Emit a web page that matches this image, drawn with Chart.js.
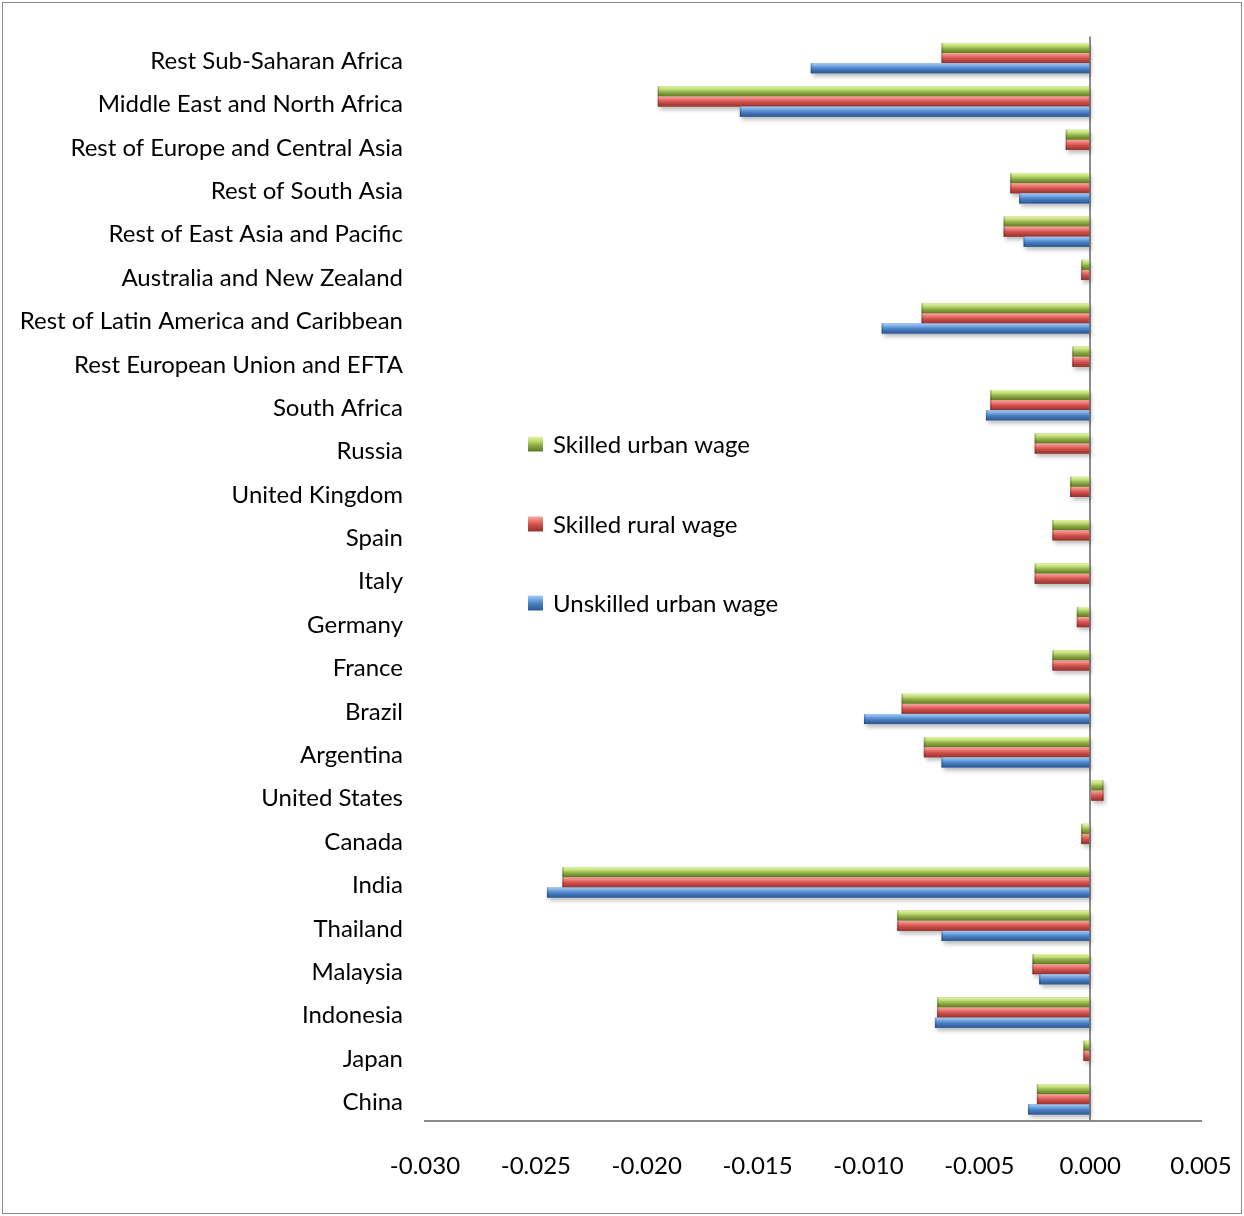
<!DOCTYPE html>
<html>
<head>
<meta charset="utf-8">
<script src="https://cdn.jsdelivr.net/npm/chart.js@4/dist/chart.umd.min.js"></script>
<style>
  html, body { margin: 0; padding: 0; background: #ffffff; }
  #wrap { width: 1244px; height: 1216px; position: relative; }
</style>
</head>
<body>
<div id="wrap"><canvas id="chart"></canvas></div>
<script>
// Regions, listed top to bottom
const categories = [
  'Rest Sub-Saharan Africa', 'Middle East and North Africa', 'Rest of Europe and Central Asia',
  'Rest of South Asia', 'Rest of East Asia and Pacific', 'Australia and New Zealand',
  'Rest of Latin America and Caribbean', 'Rest European Union and EFTA', 'South Africa',
  'Russia', 'United Kingdom', 'Spain', 'Italy', 'Germany', 'France', 'Brazil', 'Argentina',
  'United States', 'Canada', 'India', 'Thailand', 'Malaysia', 'Indonesia', 'Japan', 'China'
];

// Change in wages by region
const skilledUrbanWage = [
  -0.0067, -0.0195, -0.0011, -0.0036, -0.0039, -0.0004, -0.0076, -0.0008, -0.0045,
  -0.0025, -0.0009, -0.0017, -0.0025, -0.0006, -0.0017, -0.0085, -0.0075,
  0.0006, -0.0004, -0.0238, -0.0087, -0.0026, -0.0069, -0.0003, -0.0024
];
const skilledRuralWage = [
  -0.0067, -0.0195, -0.0011, -0.0036, -0.0039, -0.0004, -0.0076, -0.0008, -0.0045,
  -0.0025, -0.0009, -0.0017, -0.0025, -0.0006, -0.0017, -0.0085, -0.0075,
  0.0006, -0.0004, -0.0238, -0.0087, -0.0026, -0.0069, -0.0003, -0.0024
];
const unskilledUrbanWage = [
  -0.0126, -0.0158, 0, -0.0032, -0.0030, 0, -0.0094, 0, -0.0047,
  0, 0, 0, 0, 0, 0, -0.0102, -0.0067,
  0, 0, -0.0245, -0.0067, -0.0023, -0.0070, 0, -0.0028
];

const seriesNames = ['Skilled urban wage', 'Skilled rural wage', 'Unskilled urban wage'];
const xTickLabels = ['-0.030', '-0.025', '-0.020', '-0.015', '-0.010', '-0.005', '0.000', '0.005'];

const FONT = 'Lato, "Open Sans", sans-serif';
const FONT_SIZE = 24;

// Cylinder-style shading, top edge to bottom edge of each bar
const shading = {
  green: { base: '#9bbb59', stops: [[0, '#e4f5a8'], [0.28, '#c3de78'], [0.55, '#93b24c'], [1, '#5b7820']] },
  red:   { base: '#c0504d', stops: [[0, '#f7aaa5'], [0.28, '#ec7772'], [0.55, '#cf4f4a'], [1, '#923330']] },
  blue:  { base: '#4f81bd', stops: [[0, '#a8cdf5'], [0.28, '#74a6e2'], [0.55, '#4a7fc2'], [1, '#2b5690']] }
};

function makeGradient(ctx, top, h, stops) {
  const g = ctx.createLinearGradient(0, top, 0, top + h);
  stops.forEach(s => g.addColorStop(s[0], s[1]));
  return g;
}

const chartFrame = {
  id: 'chartFrame',
  beforeDraw(chart) {
    const ctx = chart.ctx;
    ctx.save();
    ctx.fillStyle = '#ffffff';
    ctx.fillRect(0, 0, chart.width, chart.height);
    ctx.strokeStyle = '#8c8c8c';
    ctx.lineWidth = 1;
    ctx.strokeRect(2.5, 2.5, chart.width - 5, chart.height - 5);
    ctx.restore();
  }
};

const barShading = {
  id: 'barShading',
  beforeDatasetDraw(chart) {
    const ctx = chart.ctx;
    ctx.save();
    ctx.shadowColor = 'rgba(0,0,0,0.28)';
    ctx.shadowBlur = 4;
    ctx.shadowOffsetX = 2;
    ctx.shadowOffsetY = 3;
  },
  afterDatasetDraw(chart) {
    chart.ctx.restore();
  },
  afterDatasetsDraw(chart) {
    const ctx = chart.ctx;
    chart.data.datasets.forEach((ds, i) => {
      const meta = chart.getDatasetMeta(i);
      const stops = ds.shadeStops;
      meta.data.forEach(bar => {
        const p = bar.getProps(['x', 'y', 'base', 'height'], true);
        const left = Math.min(p.x, p.base);
        const w = Math.abs(p.x - p.base);
        if (w < 0.5) return;
        const top = p.y - p.height / 2;
        ctx.save();
        ctx.fillStyle = makeGradient(ctx, top, p.height, stops);
        ctx.fillRect(left, top, w, p.height);
        // darker rim on the outer end
        const endX = p.x < p.base ? left : left + w - 1.5;
        ctx.fillStyle = 'rgba(0,0,0,0.18)';
        ctx.fillRect(endX, top, 1.5, p.height);
        ctx.restore();
      });
    });
  }
};

const insideLegend = {
  id: 'insideLegend',
  afterDraw(chart) {
    const ctx = chart.ctx;
    const x = 528, rows = [444, 524, 603], box = 15;
    ctx.save();
    ctx.font = FONT_SIZE + 'px ' + FONT;
    ctx.textBaseline = 'middle';
    ctx.textAlign = 'left';
    chart.data.datasets.forEach((ds, i) => {
      const cy = rows[i];
      ctx.fillStyle = makeGradient(ctx, cy - box / 2, box, ds.shadeStops);
      ctx.fillRect(x, cy - box / 2, box, box);
      ctx.fillStyle = '#000000';
      ctx.fillText(ds.label, x + 25, cy + 1);
    });
    ctx.restore();
  }
};

const palette = [shading.green, shading.red, shading.blue];
const seriesValues = [skilledUrbanWage, skilledRuralWage, unskilledUrbanWage];

new Chart(document.getElementById('chart'), {
  type: 'bar',
  data: {
    labels: categories,
    datasets: seriesValues.map((vals, i) => ({
      label: seriesNames[i],
      data: vals,
      backgroundColor: palette[i].base,
      shadeStops: palette[i].stops,
      borderWidth: 0,
      categoryPercentage: 0.70,
      barPercentage: 1.0
    }))
  },
  options: {
    indexAxis: 'y',
    responsive: true,
    maintainAspectRatio: false,
    devicePixelRatio: 1,
    animation: false,
    layout: { padding: { top: 36, right: 43, left: 0, bottom: 0 } },
    plugins: {
      legend: { display: false },
      tooltip: { enabled: false }
    },
    scales: {
      x: {
        min: -0.03,
        max: 0.005,
        afterFit(scale) {
          scale.height = 95;
          scale.paddingLeft = 0;
          scale.paddingRight = 0;
        },
        afterBuildTicks(scale) {
          scale.ticks = xTickLabels.map(t => ({ value: parseFloat(t) }));
        },
        ticks: {
          padding: 31,
          color: '#000000',
          font: { family: FONT, size: FONT_SIZE },
          maxRotation: 0,
          autoSkip: false,
          callback: (v, i) => xTickLabels[i]
        },
        grid: {
          drawTicks: false,
          lineWidth: 2,
          color: c => (c.tick && Math.abs(c.tick.value) < 1e-9) ? '#8a8a8a' : 'rgba(0,0,0,0)'
        },
        border: { display: true, color: '#8a8a8a', width: 2 }
      },
      y: {
        afterFit(scale) { scale.width = 425; },
        ticks: {
          padding: 22,
          labelOffset: 3,
          color: '#000000',
          font: { family: FONT, size: FONT_SIZE },
          autoSkip: false
        },
        grid: { display: false, drawTicks: false },
        border: { display: false }
      }
    }
  },
  plugins: [chartFrame, barShading, insideLegend]
});
</script>
</body>
</html>
